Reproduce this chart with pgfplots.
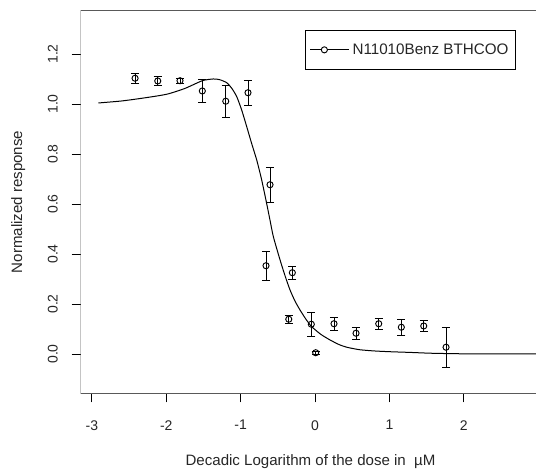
\documentclass[border=0pt]{standalone}
\usepackage{pgfplots}
\pgfplotsset{compat=1.18}
\usepackage{fontspec}
\setmainfont{Liberation Sans}
\begin{document}
\begin{tikzpicture}
\begin{axis}[
  at={(0,0)}, anchor=south west,
  scale only axis,
  width=341.6pt, height=287.25pt,
  xmin=-3.152, xmax=2.97,
  ymin=-0.158, ymax=1.374,
  axis line style={draw=none},
  tick pos=left, tick align=outside,
  major tick length=6.6pt,
  tick style={black, line width=0.7pt},
  xtick={-3,-2,-1,0,1,2},
  xticklabels={-3,-2,-1,0,1,2},
  ytick={0,0.2,0.4,0.6,0.8,1.0,1.2},
  yticklabels={0.0,0.2,0.4,0.6,0.8,1.0,1.2},
  ticklabel style={font=\fontsize{10.5}{12}\selectfont, text=black!85},
  xticklabel style={yshift=-10pt},
  yticklabel style={rotate=90, anchor=south, yshift=7pt},
  xlabel={Decadic Logarithm of the dose in\ \ µM},
  ylabel={Normalized response},
  label style={font=\fontsize{11.3}{13}\selectfont, text=black!85},
  xlabel style={at={(axis description cs:0.505,-0.189)}, anchor=base},
  ylabel style={at={(axis description cs:-0.1366,0.5)}, anchor=center},
  legend style={at={(axis description cs:0.4929,0.9491)}, anchor=north west,
    draw=black, line width=0.75pt, inner xsep=3pt, inner ysep=7.3pt,
    font=\fontsize{11.4}{13}\selectfont, text=black!85,
    nodes={inner sep=2.5pt}},
  legend cell align=left,
]
\addlegendimage{legend image code/.code={
  \path (0pt,0pt) -- (29pt,0pt);
  \draw[black, line width=0.7pt] (0pt,0pt) -- (21.5pt,0pt);
  \draw[black, line width=0.7pt, fill=white] (10.75pt,0pt) circle (2.3pt);}}
\addlegendentry{N11010Benz BTHCOO}

\addplot[black, line width=0.75pt, smooth, tension=0.4, forget plot] coordinates {
(-2.913,1.004) (-2.6,1.012) (-2.3,1.024) (-1.993,1.039) (-1.75,1.062)
(-1.515,1.093) (-1.367,1.100) (-1.28,1.097) (-1.187,1.085) (-1.12,1.063)
(-1.052,1.029) (-0.985,0.975) (-0.918,0.909) (-0.85,0.84) (-0.784,0.776)
(-0.72,0.70) (-0.66,0.616) (-0.605,0.535) (-0.560,0.469) (-0.470,0.376)
(-0.40,0.31) (-0.336,0.256) (-0.27,0.212) (-0.202,0.176) (-0.12,0.138)
(-0.044,0.109) (0.08,0.078) (0.202,0.056) (0.32,0.038) (0.426,0.027)
(0.6,0.017) (0.8,0.012) (1.008,0.009) (1.3,0.006) (1.55,0.003)
(1.9,0.001) (2.3,0.0) (3.0,0.0)
};

\addplot[black, line width=0.7pt, only marks, mark=o, mark size=2.3pt,
  forget plot,
  error bars/.cd, y dir=both, y explicit,
  error bar style={black, line width=0.7pt},
  error mark options={rotate=90, black, mark size=3.1pt, line width=0.7pt}]
table[x=x, y=y, y error=e] {
x y e
-2.419 1.103 0.020
-2.114 1.092 0.018
-1.815 1.093 0.009
-1.515 1.052 0.046
-1.200 1.011 0.063
-0.901 1.045 0.049
-0.605 0.677 0.070
-0.659 0.353 0.057
-0.305 0.325 0.025
-0.353 0.139 0.017
-0.050 0.119 0.047
0.009 0.005 0.006
0.255 0.121 0.027
0.551 0.083 0.023
0.856 0.121 0.023
1.160 0.107 0.033
1.461 0.112 0.021
1.761 0.027 0.080
};

\draw[black!65, line width=0.75pt] (axis description cs:1,1) -- (axis description cs:0,1)
  -- (axis description cs:0,0) -- (axis description cs:1,0);
\end{axis}
\pgfresetboundingbox
\path[use as bounding box] (-60.4pt,-58.9pt) rectangle (341.6pt,295.1pt);
\end{tikzpicture}
\end{document}
